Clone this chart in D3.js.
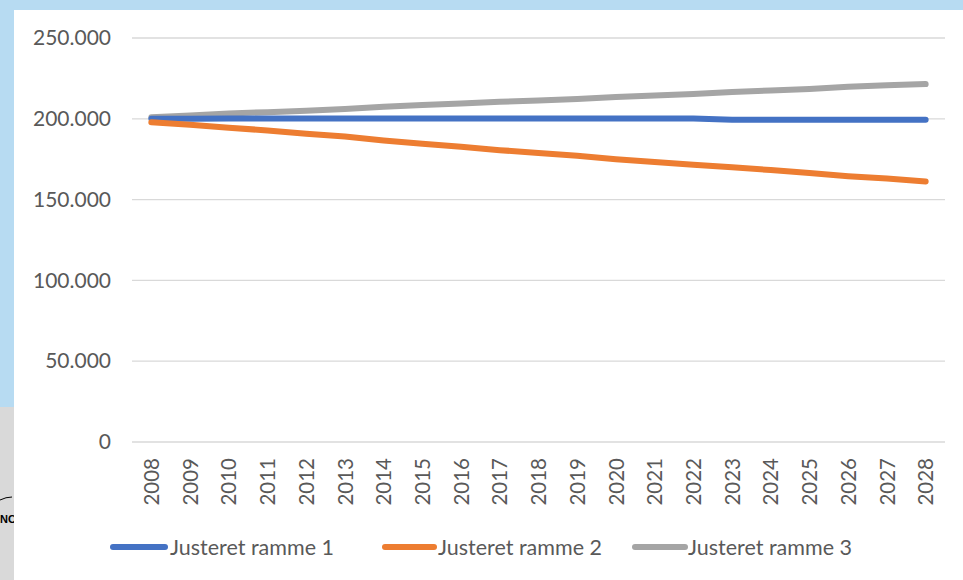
<!DOCTYPE html>
<html><head><meta charset="utf-8">
<script src="https://cdn.jsdelivr.net/npm/d3@7"></script>
<style>body{margin:0;background:#fff}svg{display:block}</style>
</head><body>
<svg id="c" width="963" height="580"></svg>
<script>
const years = d3.range(2008, 2029).map(String);
const ramme1 = [200000,200100,200200,200200,200200,200200,200200,200200,200200,200200,200200,200200,200200,200200,200200,199400,199400,199400,199400,199400,199400];
const ramme2 = [197800,196300,194500,192800,190800,189000,186600,184600,182700,180600,178900,177100,175000,173300,171600,170000,168300,166400,164500,163000,161200];
const ramme3 = [201000,202000,203300,204100,205000,206000,207500,208500,209400,210500,211300,212200,213500,214400,215400,216600,217500,218400,219800,220700,221500];
const yTicks = [0,50000,100000,150000,200000,250000];
const seriesNames = ["Justeret ramme 1","Justeret ramme 2","Justeret ramme 3"];
const colors = ["#4472C4","#ED7D31","#A5A5A5"];
const seriesData = [ramme1, ramme2, ramme3];

const svg = d3.select("#c");
const font = "Lato, 'Open Sans', sans-serif";
// background frame
svg.append("rect").attr("x",0).attr("y",0).attr("width",963).attr("height",580).attr("fill","#b7dbf2");
svg.append("rect").attr("x",0).attr("y",407).attr("width",14).attr("height",173).attr("fill","#d9d9d9");
svg.append("text").attr("x",0).attr("y",523).attr("font-family","Arial, sans-serif").attr("font-weight","bold").attr("font-size",11).attr("fill","#000").text("NC");
svg.append("path").attr("d","M0,500 Q6,497 12,497").attr("fill","none").attr("stroke","#000").attr("stroke-width",1);
svg.append("rect").attr("x",14).attr("y",10).attr("width",949).attr("height",570).attr("fill","#ffffff");

const x = d3.scalePoint().domain(years).range([132,945]).padding(0.5);
const y = d3.scaleLinear().domain([0,250000]).range([442,38]);
const fmt = v => v === 0 ? "0" : d3.format(",")(v).replace(/,/g,".");

// gridlines
svg.append("g").selectAll("line").data(yTicks).join("line")
  .attr("x1",132).attr("x2",945).attr("y1",d=>y(d)).attr("y2",d=>y(d))
  .attr("stroke","#d9d9d9").attr("stroke-width",1.3);

// y axis labels
const yAxis = d3.axisLeft(y).tickValues(yTicks).tickFormat(fmt).tickSize(0).tickPadding(0);
const gy = svg.append("g").attr("transform","translate(111,0)").call(yAxis);
gy.select(".domain").remove();
gy.selectAll("text").attr("font-family",font).attr("font-size",21).attr("fill","#595959");

// x axis labels
const xAxis = d3.axisBottom(x).tickSize(0).tickPadding(0);
const gx = svg.append("g").attr("transform","translate(0,457)").call(xAxis);
gx.select(".domain").remove();
gx.selectAll("text").attr("font-family",font).attr("font-size",20.5).attr("fill","#595959")
  .attr("text-anchor","end").attr("dy","0.35em").attr("transform","rotate(-90) translate(-1,0)")
  .attr("x",0).attr("y",0);

// lines
const line = d3.line().x((d,i)=>x(years[i])).y(d=>y(d));
[2,0,1].forEach(k=>{
  svg.append("path").datum(seriesData[k]).attr("d",line)
    .attr("fill","none").attr("stroke",colors[k]).attr("stroke-width",6)
    .attr("stroke-linecap","round").attr("stroke-linejoin","round");
});

// legend
const legLine = [[113,165],[385,434],[635,685]];
const legText = [170,438,688];
const lg = svg.append("g");
seriesNames.forEach((n,i)=>{
  lg.append("line").attr("x1",legLine[i][0]).attr("x2",legLine[i][1]).attr("y1",547).attr("y2",547)
    .attr("stroke",colors[i]).attr("stroke-width",6).attr("stroke-linecap","round");
  lg.append("text").attr("x",legText[i]).attr("y",547).attr("dy","0.35em")
    .attr("font-family",font).attr("font-size",21.5).attr("fill","#595959").text(n);
});
</script>
</body></html>
